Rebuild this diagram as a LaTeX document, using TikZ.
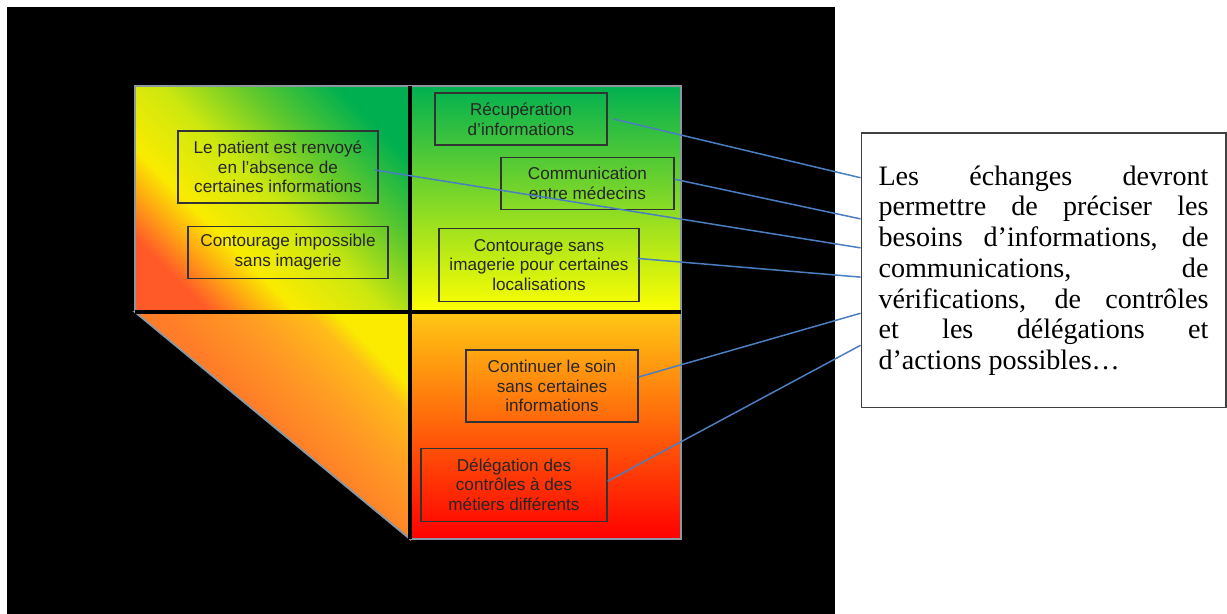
\documentclass[tikz,border=0pt]{standalone}
\usepackage{fontspec}
\setmainfont{Liberation Serif}
\setsansfont{Liberation Sans}
\usetikzlibrary{positioning, calc}
\definecolor{pptgreen}{RGB}{0,176,80}
\definecolor{midgreen}{RGB}{95,200,45}
\definecolor{limegreen}{RGB}{205,232,15}
\definecolor{sunyellow}{RGB}{250,235,0}
\definecolor{amber}{RGB}{255,160,20}
\definecolor{pptgold}{RGB}{255,200,20}
\definecolor{pptorange}{RGB}{255,125,40}
\definecolor{softorange}{RGB}{255,158,35}
\definecolor{deepamber}{RGB}{255,188,25}
\definecolor{redorange}{RGB}{255,90,40}
\definecolor{linkblue}{RGB}{74,126,193}
\definecolor{edgegray}{RGB}{140,152,160}
\pgfdeclareverticalshading{cornershade}{100bp}{color(0bp)=(redorange); color(25bp)=(redorange); color(31bp)=(amber); color(37.5bp)=(sunyellow); color(50bp)=(limegreen); color(62.5bp)=(midgreen); color(75bp)=(pptgreen); color(100bp)=(pptgreen)}
\pgfdeclareverticalshading{wedgeshade}{100bp}{color(0bp)=(pptorange); color(50bp)=(pptorange); color(62.5bp)=(softorange); color(71bp)=(deepamber); color(75bp)=(sunyellow); color(100bp)=(sunyellow)}
\hyphenpenalty=10000
\tolerance=10000
\hbadness=10000
\tikzstyle{cell} = [rectangle, draw=black!80, line width=0.7pt, text=black!85, align=center, inner sep=0pt, font=\sffamily\fontsize{9.75}{11.2}\selectfont]
\tikzstyle{note} = [rectangle, draw=black!75, line width=0.6pt, fill=white, text width=6.6cm, inner xsep=0.35cm, minimum height=5.5cm, align=justify, font=\rmfamily\fontsize{16}{17.5}\selectfont]
\tikzset{
	LINK/.style={draw=linkblue, line width=0.85pt},
	QEDGE/.style={draw=edgegray, line width=1.1pt},
	SPLIT/.style={draw=black, line width=1.8pt}
}

\begin{document}
\begin{tikzpicture}[x=0.02cm, y=-0.02cm]
\useasboundingbox (0,0) rectangle (1227,614);
\fill[black] (7,7) rectangle (835,614);
% four parts of the grid
\path[QEDGE, shade, shading=cornershade, shading angle=-45] (135,86) rectangle (410,312);
\path[QEDGE, top color=pptgreen, bottom color=yellow] (410,86) rectangle (681,312);
\path[QEDGE, top color=pptgold, bottom color=red] (410,312) rectangle (681,539);
\path[QEDGE, shade, shading=wedgeshade, shading angle=-45] (135,312) -- (410,312) -- (410,539) -- cycle;
\draw[SPLIT] (410,86) -- (410,539);
\draw[SPLIT] (135,312) -- (681,312);
% boxes
\node (pat) [cell, minimum width=4cm, minimum height=1.44cm] at (278,167) {Le patient est renvoyé\\en l’absence de\\certaines informations};
\node (cim) [cell, minimum width=4cm, minimum height=1.04cm, below=0.44cm of pat, xshift=0.2cm] {Contourage impossible\\sans imagerie};
\node (rec) [cell, minimum width=3.44cm, minimum height=1.04cm] at (521,119) {Récupération\\d’informations};
\node (com) [cell, minimum width=3.46cm, minimum height=1.04cm, below=0.22cm of rec, xshift=1.33cm] {Communication\\entre médecins};
\node (csi) [cell, minimum width=4cm, minimum height=1.46cm, below=0.36cm of com, xshift=-0.97cm] {Contourage sans\\imagerie pour certaines\\localisations};
\node (soin) [cell, minimum width=3.44cm, minimum height=1.44cm] at (552,386) {Continuer le soin\\sans certaines\\informations};
\node (del) [cell, minimum width=3.72cm, minimum height=1.46cm, below=0.5cm of soin, xshift=-0.76cm] {Délégation des\\contrôles à des\\métiers différents};
\node (msg) [note] at (1043.5,270.5) {Les échanges devront\linebreak permettre de préciser les\linebreak besoins d’informations, de\linebreak communications, de\linebreak vérifications, de contrôles\linebreak et les délégations et\linebreak d’actions possibles…};
% links to the note
\draw[LINK] ([xshift=0.12cm]rec.east) -- ($(msg.north west)!0.164!(msg.south west)$);
\draw[LINK] ([yshift=0.08cm]com.east) -- ($(msg.north west)!0.313!(msg.south west)$);
\draw[LINK] ([xshift=-0.08cm, yshift=-0.06cm]pat.east) -- ($(msg.north west)!0.418!(msg.south west)$);
\draw[LINK] ([xshift=-0.04cm, yshift=0.13cm]csi.east) -- ($(msg.north west)!0.524!(msg.south west)$);
\draw[LINK] ([yshift=0.18cm]soin.east) -- ($(msg.north west)!0.655!(msg.south west)$);
\draw[LINK] ([yshift=0.07cm]del.east) -- ($(msg.north west)!0.771!(msg.south west)$);
\end{tikzpicture}
\end{document}
